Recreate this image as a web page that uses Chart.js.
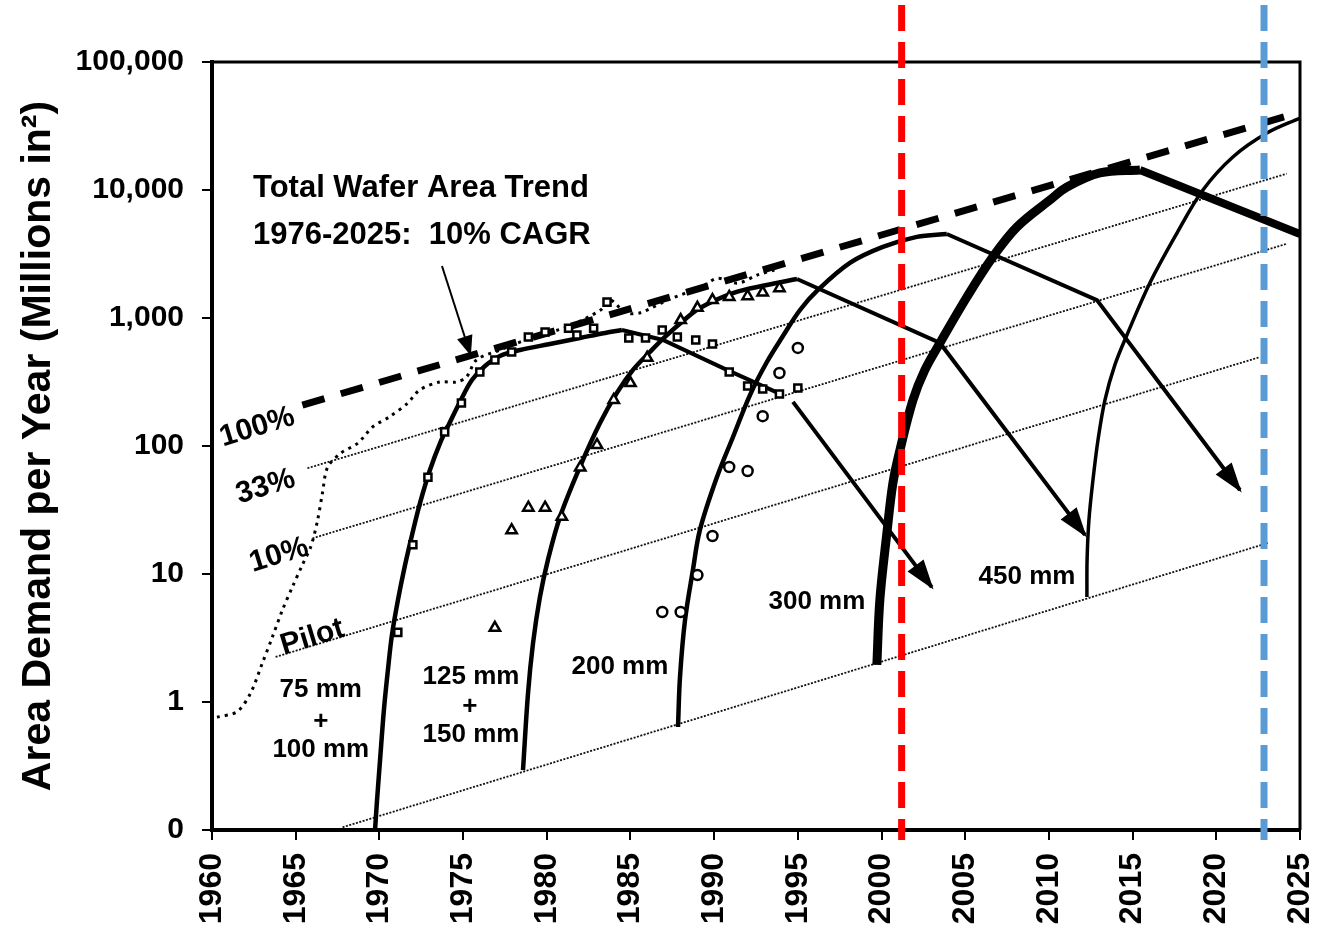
<!DOCTYPE html>
<html>
<head>
<meta charset="utf-8">
<title>Area Demand per Year</title>
<script src="https://cdn.jsdelivr.net/npm/chart.js@4.4.1/dist/chart.umd.min.js"></script>
<style>
  html, body { margin: 0; padding: 0; background: #fff; }
  canvas { display: block; }
</style>
</head>
<body>
<canvas id="chart" width="1320" height="934"></canvas>
<script>
// values: x = year, y = area demand (millions in^2)
const areaTicks = [0.1, 1, 10, 100, 1000, 10000, 100000];

// total wafer area trend (dashed)
const trendYears = [1965.4, 2025];
const trendArea = [209, 40600];

// thin dotted growth lines
const g33Years = [1965.7, 2024.2];
const g33Area = [67, 13400];
const g10Years = [1966.0, 2024.2];
const g10Area = [19, 3800];
const pilotYears = [1963.8, 2022.6];
const pilotArea = [2.25, 495];
const startYears = [1967.8, 2023.1];
const startArea = [0.105, 17.5];

// historical total (fine dotted)
const histYears = [1960.3, 1961.5, 1962.3, 1963.0, 1963.6, 1964.2, 1964.8, 1965.4, 1965.9, 1966.3, 1966.6, 1966.9, 1967.7, 1968.7, 1969.6, 1970.6, 1971.7, 1972.4, 1973.6, 1974.6, 1975.2, 1975.8, 1977.2, 1979.2, 1981.2, 1983.2, 1983.8, 1984.7, 1985.6, 1987.2, 1989.2, 1990.2, 1991.4, 1992.6, 1993.6];
const histArea = [0.76, 0.84, 1.17, 2.0, 3.2, 5.2, 7.9, 11.8, 16.3, 26, 43, 68, 88, 105, 141, 169, 217, 274, 316, 316, 346, 470, 562, 708, 851, 1150, 1380, 1100, 1100, 1380, 1740, 2040, 1870, 2170, 2370];

// 75 mm + 100 mm
const w100Years = [1969.74, 1969.86, 1970.04, 1970.27, 1970.51, 1970.75, 1971.11, 1971.53, 1971.95, 1972.43, 1973.02, 1973.62, 1974.22, 1974.81, 1975.53, 1976.31, 1977.2, 1978.4, 1980.19, 1981.98, 1983.48, 1984.49];
const w100Area = [0.1, 0.171, 0.352, 0.866, 1.78, 3.34, 6.27, 11.7, 20.2, 35.9, 64.9, 105, 154, 221, 328, 422, 505, 562, 627, 698, 764, 806];
const w100DownYears = [1984.49, 1986.94, 1990.76, 1994.11];
const w100DownArea = [806, 673, 393, 250];
const w100ArrowYears = [1994.71, 2003.0];
const w100ArrowArea = [221, 7.9];

// 125 mm + 150 mm
const w150Years = [1978.58, 1978.88, 1979.18, 1979.59, 1980.07, 1980.79, 1981.98, 1983.18, 1984.19, 1985.15, 1986.16, 1987.06, 1988.14, 1989.15, 1991.12, 1993.15, 1994.95];
const w150Area = [0.294, 1.17, 2.89, 6.6, 12.9, 27.9, 68.5, 151, 260, 393, 542, 711, 948, 1197, 1567, 1811, 2018];
const w150DownYears = [1994.95, 2003.49, 2012.15];
const w150DownArea = [2018, 638, 20.2];

// 200 mm
const w200Years = [1987.84, 1987.96, 1988.26, 1988.73, 1989.15, 1990.17, 1991.12, 1992.14, 1993.15, 1994.11, 1995.13, 1996.14, 1998.11, 2000.08, 2002.11, 2003.9];
const w200Area = [0.638, 1.57, 4.37, 10.7, 22.1, 57.3, 117, 250, 453, 723, 1155, 1626, 2692, 3589, 4300, 4530];
const w200DownYears = [2003.9, 2012.87, 2021.41];
const w200DownArea = [4530, 1380, 45.3];

// 300 mm
const w300Years = [1999.72, 1999.9, 2000.32, 2000.68, 2001.1, 2001.88, 2002.59, 2003.49, 2005.1, 2006.65, 2008.09, 2010.06, 2011.08, 2013.05, 2015.44];
const w300Area = [1.95, 6.27, 20.9, 51.4, 93, 229, 393, 638, 1459, 3000, 5140, 8350, 10550, 13590, 14330];
const w300DownYears = [2015.44, 2025];
const w300DownArea = [14330, 4530];

// 450 mm
const w450Years = [2012.27, 2012.28, 2012.39, 2012.63, 2012.93, 2013.35, 2013.94, 2014.66, 2016.03, 2017.65, 2019.2, 2020.99, 2023.02, 2025];
const w450Area = [6.6, 12.9, 26.4, 54.2, 111, 229, 430, 736, 1876, 4610, 10000, 18110, 27860, 36520];

// measured points
const sqYears = [1971.1, 1972.0, 1972.9, 1973.9, 1974.9, 1976.0, 1976.9, 1977.9, 1978.9, 1979.9, 1981.3, 1981.8, 1982.8, 1983.6, 1984.9, 1985.9, 1986.9, 1987.8, 1988.9, 1989.9, 1990.9, 1992.0, 1992.9, 1993.9, 1995.0];
const sqArea = [3.5, 16.9, 57, 129, 217, 379, 470, 542, 711, 777, 832, 736, 832, 1330, 698, 698, 805, 711, 673, 627, 379, 294, 279, 255, 284];
const triYears = [1976.9, 1977.9, 1978.9, 1979.9, 1980.9, 1982.0, 1983.0, 1984.0, 1985.0, 1986.0, 1988.0, 1989.0, 1989.9, 1990.9, 1992.0, 1992.9, 1993.9];
const triArea = [3.8, 22, 33, 33, 28, 68, 102, 229, 310, 489, 964, 1200, 1380, 1460, 1480, 1585, 1710];
const circYears = [1986.9, 1988.0, 1989.0, 1989.9, 1990.9, 1992.0, 1992.9, 1993.9, 1995.0];
const circArea = [5.05, 5.05, 9.8, 19.8, 68.5, 63.8, 171, 372, 584];

// pointer from the trend caption
const noteArrowYears = [1973.74, 1975.41];
const noteArrowArea = [2547, 533];

// dashed vertical markers
const markerYears = [2001.2, 2022.85];
const markerColors = ['#ff0000', '#5b9bd5'];

const FONT = '"Liberation Sans", Arial, Helvetica, sans-serif';
Chart.defaults.font.family = FONT;
Chart.defaults.color = '#000';

function xy(xs, ys) {
    return xs.map((x, i) => ({ x: x, y: ys[i] }));
}

function line(xs, ys, width, extra) {
    return Object.assign({
        data: xy(xs, ys),
        showLine: true,
        borderColor: '#000',
        borderWidth: width,
        pointRadius: 0,
        tension: 0,
        order: 1
    }, extra || {});
}

function marks(xs, ys, style, r) {
    return {
        data: xy(xs, ys),
        showLine: false,
        pointStyle: style,
        pointRadius: r,
        pointBackgroundColor: '#fff',
        pointBorderColor: '#000',
        pointBorderWidth: 2.5,
        order: 0
    };
}

function drawHead(ctx, x1, y1, x2, y2, len, half) {
    const a = Math.atan2(y2 - y1, x2 - x1);
    const tx = x2 + Math.cos(a) * 3, ty = y2 + Math.sin(a) * 3;
    ctx.beginPath();
    ctx.moveTo(tx, ty);
    ctx.lineTo(tx - len * Math.cos(a) + half * Math.sin(a), ty - len * Math.sin(a) - half * Math.cos(a));
    ctx.lineTo(tx - len * Math.cos(a) - half * Math.sin(a), ty - len * Math.sin(a) + half * Math.cos(a));
    ctx.closePath();
    ctx.fill();
}

// labels placed in data coordinates
const notes = [
    { t: 'Total Wafer Area Trend', x: 1962.45, y: 10370, size: 31, align: 'left' },
    { t: '1976-2025:  10% CAGR', x: 1962.45, y: 4450, size: 31, align: 'left' },
    { t: '100%', x: 1962.7, y: 140, size: 30, rot: -17 },
    { t: '33%', x: 1963.2, y: 48, size: 30, rot: -17 },
    { t: '10%', x: 1964.0, y: 14, size: 30, rot: -17 },
    { t: 'Pilot', x: 1966.0, y: 3.2, size: 30, rot: -17 },
    { t: '75 mm', x: 1966.5, y: 1.24, size: 26 },
    { t: '+', x: 1966.5, y: 0.7, size: 26 },
    { t: '100 mm', x: 1966.5, y: 0.42, size: 26 },
    { t: '125 mm', x: 1975.47, y: 1.57, size: 26 },
    { t: '+', x: 1975.41, y: 0.91, size: 26 },
    { t: '150 mm', x: 1975.47, y: 0.55, size: 26 },
    { t: '200 mm', x: 1984.37, y: 1.88, size: 26 },
    { t: '300 mm', x: 1996.14, y: 6.04, size: 26 },
    { t: '450 mm', x: 2008.69, y: 9.5, size: 26 }
];

const overlay = {
    id: 'overlay',
    afterDatasetsDraw(chart) {
        const { ctx, chartArea: a, scales: { x, y } } = chart;
        ctx.save();
        ctx.fillStyle = '#000';

        // arrow heads on flagged datasets
        chart.data.datasets.forEach((ds, i) => {
            if (!ds.arrow) return;
            const pts = chart.getDatasetMeta(i).data;
            const p1 = pts[pts.length - 2], p2 = pts[pts.length - 1];
            drawHead(ctx, p1.x, p1.y, p2.x, p2.y, ds.arrow[0], ds.arrow[1]);
        });

        // top and right frame
        ctx.strokeStyle = '#000';
        ctx.lineWidth = 3;
        ctx.beginPath();
        ctx.moveTo(a.left, a.top);
        ctx.lineTo(a.right, a.top);
        ctx.lineTo(a.right, a.bottom);
        ctx.stroke();

        // text
        notes.forEach(n => {
            ctx.save();
            ctx.font = 'bold ' + n.size + 'px ' + FONT;
            ctx.textAlign = n.align || 'center';
            ctx.textBaseline = 'middle';
            ctx.translate(x.getPixelForValue(n.x), y.getPixelForValue(n.y));
            if (n.rot) ctx.rotate(n.rot * Math.PI / 180);
            ctx.fillText(n.t, 0, 0);
            ctx.restore();
        });

        // dashed vertical markers
        ctx.lineWidth = 7;
        ctx.setLineDash([26, 11]);
        markerYears.forEach((yr, i) => {
            const px = x.getPixelForValue(yr);
            ctx.strokeStyle = markerColors[i];
            ctx.beginPath();
            ctx.moveTo(px, 5);
            ctx.lineTo(px, a.bottom + 10);
            ctx.stroke();
        });
        ctx.restore();
    }
};

const thinDots = { borderDash: [2, 1.5], borderColor: '#111', order: 3 };

const datasets = [
    marks(sqYears, sqArea, 'rect', 5),
    marks(triYears, triArea, 'triangle', 6),
    marks(circYears, circArea, 'circle', 5),
    line(trendYears, trendArea, 7, { borderDash: [23, 17], order: 2 }),
    line(histYears, histArea, 3, { borderDash: [3, 5], tension: 0.3, order: 2 }),
    line(g33Years, g33Area, 1.8, thinDots),
    line(g10Years, g10Area, 1.8, thinDots),
    line(pilotYears, pilotArea, 1.8, thinDots),
    line(startYears, startArea, 1.8, thinDots),
    line(w100Years, w100Area, 4.5, { tension: 0.35 }),
    line(w100DownYears, w100DownArea, 4),
    line(w100ArrowYears, w100ArrowArea, 4, { arrow: [30, 10] }),
    line(w150Years, w150Area, 4.5, { tension: 0.35 }),
    line(w150DownYears, w150DownArea, 4, { arrow: [30, 10] }),
    line(w200Years, w200Area, 4.5, { tension: 0.35 }),
    line(w200DownYears, w200DownArea, 4, { arrow: [30, 10] }),
    line(w300Years, w300Area, 9, { tension: 0.35 }),
    line(w300DownYears, w300DownArea, 8),
    line(w450Years, w450Area, 3.5, { tension: 0.35 }),
    line(noteArrowYears, noteArrowArea, 2, { arrow: [20, 8] })
];

new Chart(document.getElementById('chart'), {
    type: 'scatter',
    data: { datasets: datasets },
    plugins: [overlay],
    options: {
        responsive: false,
        devicePixelRatio: 1,
        animation: false,
        layout: { padding: { top: 62, right: 20, left: 0, bottom: 0 } },
        plugins: { legend: { display: false }, tooltip: { enabled: false } },
        scales: {
            x: {
                type: 'linear',
                min: 1960,
                max: 2025,
                afterFit: s => { s.height = 104; s.paddingLeft = 0; s.paddingRight = 0; },
                grid: { drawOnChartArea: false, color: '#000', lineWidth: 2, tickLength: 10 },
                border: { color: '#000', width: 4 },
                ticks: {
                    stepSize: 5,
                    minRotation: 90,
                    maxRotation: 90,
                    padding: 13,
                    font: { size: 32, weight: 'bold' },
                    callback: v => String(v)
                }
            },
            y: {
                type: 'logarithmic',
                min: 0.1,
                max: 100000,
                afterFit: s => { s.width = 212; s.paddingTop = 0; s.paddingBottom = 0; },
                afterBuildTicks: s => { s.ticks = areaTicks.map(v => ({ value: v })); },
                grid: { drawOnChartArea: false, color: '#000', lineWidth: 2, tickLength: 10 },
                border: { color: '#000', width: 4 },
                ticks: {
                    padding: 18,
                    font: { size: 30, weight: 'bold' },
                    callback: v => v < 0.5 ? '0' : Number(v).toLocaleString('en-US')
                },
                title: {
                    display: true,
                    text: 'Area Demand per Year (Millions in²)',
                    font: { size: 41, weight: 'bold' },
                    padding: { top: 14, bottom: 0 }
                }
            }
        }
    }
});
</script>
</body>
</html>
